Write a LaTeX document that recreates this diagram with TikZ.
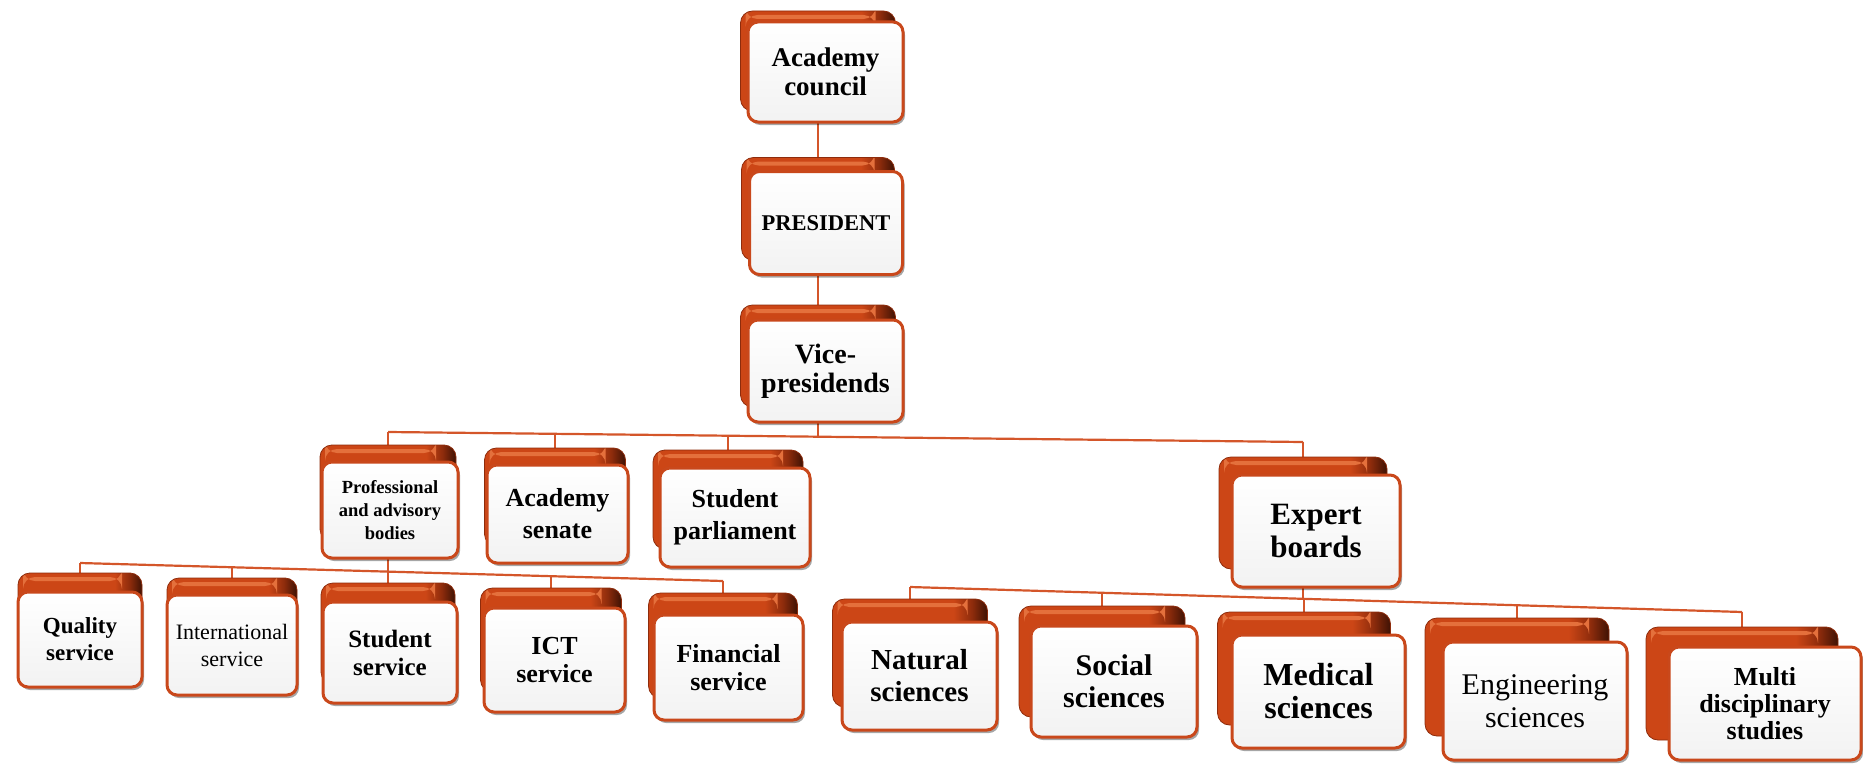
\documentclass[tikz,border=0pt]{standalone}
\usepackage{fontspec}
\setmainfont{Liberation Serif}
\usetikzlibrary{shadows}
\definecolor{lineC}{HTML}{D4562A}
\definecolor{slabA}{HTML}{CC4616}
\definecolor{slabM}{HTML}{8E2C0C}
\definecolor{slabD}{HTML}{3E1204}
\definecolor{slabL}{HTML}{E4703C}
\definecolor{edgeC}{HTML}{C9481B}
\pgfdeclarehorizontalshading{slab}{100bp}{color(0bp)=(slabA); color(25bp)=(slabA); color(64bp)=(slabA); color(70bp)=(slabM); color(75bp)=(slabD); color(100bp)=(slabD)}
\pgfdeclarelayer{bg}
\pgfsetlayers{bg,main}
\newcommand\fsz[2]{\fontsize{#1}{#2}\selectfont}
\tikzset{
  backbox/.style={shading=slab, rounded corners=12pt, draw=slabM, line width=0.8pt, inner sep=0pt,
    path picture={\fill[slabL] ([yshift=-4pt,xshift=5pt]path picture bounding box.north west) rectangle ([yshift=-8pt,xshift=-20pt]path picture bounding box.north east);}},
  frontbox/.style={top color=white, bottom color=black!5, draw=edgeC, line width=3pt, rounded corners=10pt,
    inner sep=0pt, align=center, text=black,
    drop shadow={shadow xshift=2pt, shadow yshift=-3pt, opacity=.35, fill=black}},
  conn/.style={draw=lineC, line width=2.2pt}
}
% name, x, y, w, h, sx, sy, font, text
\newcommand\obox[9]{%
  \node[backbox, minimum width=#4pt, minimum height=#5pt] (#1b) at ({#2-#6},{#3-#7}) {};
  \node[frontbox, minimum width=#4pt, minimum height=#5pt, font=#8] (#1) at (#2,#3) {#9};
}
\begin{document}
\begin{tikzpicture}[x=1pt,y=-1pt]
\useasboundingbox (0,0) rectangle (1863,768);
\obox{council}{825.5}{72}{155}{100}{7.5}{11}{\bfseries\fsz{27}{29}}{Academy\\council}
\obox{president}{826}{223}{153}{103}{8}{14}{\bfseries\fsz{22.5}{26}}{PRESIDENT}
\obox{vice}{825.5}{371}{155}{102}{7.5}{15}{\bfseries\fsz{28}{29}}{Vice-\\presidends}
\obox{prof}{390}{510}{136}{96}{2}{17}{\bfseries\fsz{18.5}{23}}{Professional\\and advisory\\bodies}
\obox{senate}{557.5}{514}{141}{98}{2.5}{17}{\bfseries\fsz{26}{32}}{Academy\\senate}
\obox{parl}{735}{517.5}{150}{99}{7}{18}{\bfseries\fsz{26}{32}}{Student\\parliament}
\obox{expert}{1316}{531}{168}{112}{13}{18}{\bfseries\fsz{31}{33}}{Expert\\boards}
\obox{quality}{80}{639.5}{124}{95}{0}{19}{\bfseries\fsz{23}{27}}{Quality\\service}
\obox{intl}{232}{645}{130}{100}{0}{17}{\fsz{22}{27}}{International\\service}
\obox{student}{390}{652.5}{134}{101}{2}{19}{\bfseries\fsz{25}{28}}{Student\\service}
\obox{ict}{554.5}{660}{141}{104}{3.5}{20}{\bfseries\fsz{26}{28}}{ICT\\service}
\obox{fin}{728.5}{667.5}{149}{105}{5.5}{22}{\bfseries\fsz{26}{28}}{Financial\\service}
\obox{natural}{919.5}{676}{155}{108}{9.5}{23}{\bfseries\fsz{29}{32}}{Natural\\sciences}
\obox{social}{1114}{681.5}{166}{111}{12}{20}{\bfseries\fsz{30}{32}}{Social\\sciences}
\obox{medical}{1318.5}{691.5}{173}{113}{14.5}{23}{\bfseries\fsz{32}{33}}{Medical\\sciences}
\obox{eng}{1535}{701}{184}{118}{18}{24}{\fsz{30}{33}}{Engineering\\sciences}
\obox{multi}{1765}{703.5}{192}{113}{23}{20}{\bfseries\fsz{26}{27}}{Multi\\disciplinary\\studies}
% bus junctions
\coordinate (vL) at (388,432);
\coordinate (vJ) at (818,436.7);
\coordinate (vS) at (555,433.8);
\coordinate (vP) at (728,435.7);
\coordinate (vR) at (1303,442);
\coordinate (lL) at (80,563);
\coordinate (lI) at (232,567.3);
\coordinate (lJ) at (388,571.6);
\coordinate (lC) at (551,576.2);
\coordinate (lR) at (723,581);
\coordinate (rL) at (910,587);
\coordinate (rS) at (1102,592.8);
\coordinate (rJ) at (1303,598.8);
\coordinate (rE) at (1517,605.2);
\coordinate (rR) at (1742,612);
\begin{pgfonlayer}{bg}
\draw[conn] (councilb) -- (presidentb);
\draw[conn] (presidentb) -- (viceb);
\draw[conn] (viceb) -- (viceb |- vJ);
\draw[conn] (vL) -- (vR);
\draw[conn] (profb) -- (profb |- vL);
\draw[conn] (senateb) -- (senateb |- vS);
\draw[conn] (parlb) -- (parlb |- vP);
\draw[conn] (expertb) -- (expertb |- vR);
\draw[conn] (profb) -- (profb |- lJ);
\draw[conn] (lL) -- (lR);
\draw[conn] (qualityb) -- (qualityb |- lL);
\draw[conn] (intlb) -- (intlb |- lI);
\draw[conn] (studentb) -- (studentb |- lJ);
\draw[conn] (ictb) -- (ictb |- lC);
\draw[conn] (finb) -- (finb |- lR);
\draw[conn] (expertb) -- (expertb |- rJ);
\draw[conn] (rL) -- (rR);
\draw[conn] (naturalb) -- (naturalb |- rL);
\draw[conn] (socialb) -- (socialb |- rS);
\draw[conn] (medicalb) -- (medicalb |- rJ);
\draw[conn] (engb) -- (engb |- rE);
\draw[conn] (multib) -- (multib |- rR);
\end{pgfonlayer}
\end{tikzpicture}
\end{document}
